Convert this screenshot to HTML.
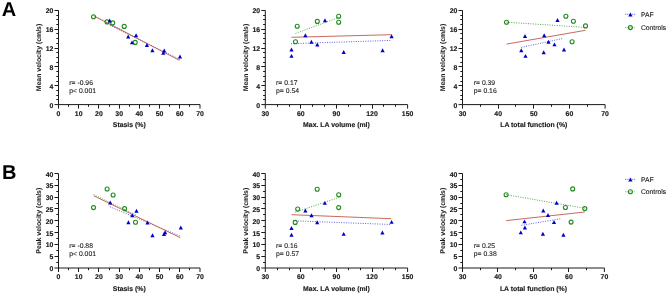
<!DOCTYPE html>
<html><head><meta charset="utf-8"><style>
html,body{margin:0;padding:0;background:#fff;}
body{width:669px;height:294px;overflow:hidden;}
svg{display:block;will-change:transform;text-rendering:geometricPrecision;}
.t{font-family:"Liberation Sans", sans-serif;font-weight:bold;font-size:6.9px;fill:#1a1a1a;stroke:#1a1a1a;stroke-width:0.15px;}
.s{font-family:"Liberation Sans", sans-serif;font-size:6.8px;fill:#1a1a1a;stroke:#1a1a1a;stroke-width:0.1px;}
.l{font-family:"Liberation Sans", sans-serif;font-size:6.8px;fill:#1a1a1a;stroke:#1a1a1a;stroke-width:0.1px;}
.yt{stroke-width:0.05px;}
.big{font-family:"Liberation Sans", sans-serif;font-weight:bold;font-size:20px;fill:#000;}
</style></head><body>
<svg width="669" height="294" viewBox="0 0 669 294">
<path d="M58.5 10.4V104.6H200.0" fill="none" stroke="#1a1a1a" stroke-width="1"/>
<text x="53.30" y="107.60" text-anchor="end" class="t">0</text>
<text x="53.30" y="88.76" text-anchor="end" class="t">4</text>
<text x="53.30" y="69.92" text-anchor="end" class="t">8</text>
<text x="53.30" y="51.08" text-anchor="end" class="t">12</text>
<text x="53.30" y="32.24" text-anchor="end" class="t">16</text>
<text x="53.30" y="13.40" text-anchor="end" class="t">20</text>
<text x="58.50" y="116.00" text-anchor="middle" class="t">0</text>
<text x="78.71" y="116.00" text-anchor="middle" class="t">10</text>
<text x="98.93" y="116.00" text-anchor="middle" class="t">20</text>
<text x="119.14" y="116.00" text-anchor="middle" class="t">30</text>
<text x="139.36" y="116.00" text-anchor="middle" class="t">40</text>
<text x="159.57" y="116.00" text-anchor="middle" class="t">50</text>
<text x="179.79" y="116.00" text-anchor="middle" class="t">60</text>
<text x="200.00" y="116.00" text-anchor="middle" class="t">70</text>
<path d="M54.50 104.60H58.5M56.30 99.50H58.5M56.30 95.50H58.5M56.30 90.50H58.5M54.50 85.50H58.5M56.30 81.50H58.5M56.30 76.50H58.5M56.30 71.50H58.5M54.50 66.50H58.5M56.30 62.50H58.5M56.30 57.50H58.5M56.30 52.50H58.5M54.50 48.50H58.5M56.30 43.50H58.5M56.30 38.50H58.5M56.30 33.50H58.5M54.50 29.50H58.5M56.30 24.50H58.5M56.30 19.50H58.5M56.30 15.50H58.5M54.50 10.50H58.5M58.50 104.6V108.60M68.50 104.6V106.80M78.50 104.6V108.60M88.50 104.6V106.80M98.50 104.6V108.60M109.50 104.6V106.80M119.50 104.6V108.60M129.50 104.6V106.80M139.50 104.6V108.60M149.50 104.6V106.80M159.50 104.6V108.60M169.50 104.6V106.80M179.50 104.6V108.60M189.50 104.6V106.80M200.00 104.6V108.60" stroke="#1a1a1a" stroke-width="1"/>
<text x="129.25" y="127.30" text-anchor="middle" class="t">Stasis (%)</text>
<text transform="translate(41.40,57.50) rotate(-90)" text-anchor="middle" class="t yt">Mean velocity (cm/s)</text>
<path d="M93.5 15.5L135 37" stroke="#1f8a1f" stroke-width="0.9" stroke-dasharray="1 1.4" opacity="0.85"/>
<path d="M110 25.2L180 59.5" stroke="#0000c8" stroke-width="0.9" stroke-dasharray="1 1.4" opacity="0.7"/>
<path d="M94.5 16.3L179.4 60.3" stroke="#c2584c" stroke-width="0.9"/>
<circle cx="93.50" cy="16.70" r="2.0" fill="none" stroke="#1f8a1f" stroke-width="1.1"/>
<circle cx="107.00" cy="21.90" r="2.0" fill="none" stroke="#1f8a1f" stroke-width="1.1"/>
<circle cx="112.70" cy="22.90" r="2.0" fill="none" stroke="#1f8a1f" stroke-width="1.1"/>
<circle cx="124.20" cy="26.40" r="2.0" fill="none" stroke="#1f8a1f" stroke-width="1.1"/>
<circle cx="135.20" cy="42.40" r="2.0" fill="none" stroke="#1f8a1f" stroke-width="1.1"/>
<path d="M109.70 18.60L111.80 22.55L107.60 22.55Z" fill="#0000c8"/>
<path d="M128.20 34.60L130.30 38.55L126.10 38.55Z" fill="#0000c8"/>
<path d="M136.10 33.20L138.20 37.15L134.00 37.15Z" fill="#0000c8"/>
<path d="M132.00 40.40L134.10 44.35L129.90 44.35Z" fill="#0000c8"/>
<path d="M146.90 43.10L149.00 47.05L144.80 47.05Z" fill="#0000c8"/>
<path d="M152.40 48.20L154.50 52.15L150.30 52.15Z" fill="#0000c8"/>
<path d="M164.20 48.60L166.30 52.55L162.10 52.55Z" fill="#0000c8"/>
<path d="M163.30 50.90L165.40 54.85L161.20 54.85Z" fill="#0000c8"/>
<path d="M180.00 54.60L182.10 58.55L177.90 58.55Z" fill="#0000c8"/>
<text x="69.30" y="85.00" class="s">r= -0.96</text>
<text x="69.30" y="92.80" class="s">p< 0.001</text>
<path d="M265.3 10.4V104.6H407.6" fill="none" stroke="#1a1a1a" stroke-width="1"/>
<text x="260.10" y="107.60" text-anchor="end" class="t">0</text>
<text x="260.10" y="88.76" text-anchor="end" class="t">4</text>
<text x="260.10" y="69.92" text-anchor="end" class="t">8</text>
<text x="260.10" y="51.08" text-anchor="end" class="t">12</text>
<text x="260.10" y="32.24" text-anchor="end" class="t">16</text>
<text x="260.10" y="13.40" text-anchor="end" class="t">20</text>
<text x="265.30" y="116.00" text-anchor="middle" class="t">30</text>
<text x="300.88" y="116.00" text-anchor="middle" class="t">60</text>
<text x="336.45" y="116.00" text-anchor="middle" class="t">90</text>
<text x="372.03" y="116.00" text-anchor="middle" class="t">120</text>
<text x="407.60" y="116.00" text-anchor="middle" class="t">150</text>
<path d="M261.30 104.60H265.3M263.10 99.50H265.3M263.10 95.50H265.3M263.10 90.50H265.3M261.30 85.50H265.3M263.10 81.50H265.3M263.10 76.50H265.3M263.10 71.50H265.3M261.30 66.50H265.3M263.10 62.50H265.3M263.10 57.50H265.3M263.10 52.50H265.3M261.30 48.50H265.3M263.10 43.50H265.3M263.10 38.50H265.3M263.10 33.50H265.3M261.30 29.50H265.3M263.10 24.50H265.3M263.10 19.50H265.3M263.10 15.50H265.3M261.30 10.50H265.3M265.30 104.6V108.60M277.50 104.6V106.80M289.50 104.6V106.80M300.50 104.6V108.60M312.50 104.6V106.80M324.50 104.6V106.80M336.50 104.6V108.60M348.50 104.6V106.80M360.50 104.6V106.80M372.50 104.6V108.60M383.50 104.6V106.80M395.50 104.6V106.80M407.60 104.6V108.60" stroke="#1a1a1a" stroke-width="1"/>
<text x="336.45" y="127.30" text-anchor="middle" class="t">Max. LA volume (ml)</text>
<text transform="translate(248.20,57.50) rotate(-90)" text-anchor="middle" class="t yt">Mean velocity (cm/s)</text>
<path d="M295.5 33.5L338.7 17.5" stroke="#1f8a1f" stroke-width="0.9" stroke-dasharray="1 1.4" opacity="0.85"/>
<path d="M291 43.7L391 40.4" stroke="#0000c8" stroke-width="0.9" stroke-dasharray="1 1.4" opacity="0.7"/>
<path d="M291.5 37.3L391.6 34.7" stroke="#c2584c" stroke-width="0.9"/>
<circle cx="297.20" cy="26.30" r="2.0" fill="none" stroke="#1f8a1f" stroke-width="1.1"/>
<circle cx="317.30" cy="21.40" r="2.0" fill="none" stroke="#1f8a1f" stroke-width="1.1"/>
<circle cx="338.70" cy="16.30" r="2.0" fill="none" stroke="#1f8a1f" stroke-width="1.1"/>
<circle cx="338.70" cy="22.20" r="2.0" fill="none" stroke="#1f8a1f" stroke-width="1.1"/>
<circle cx="295.50" cy="41.80" r="2.0" fill="none" stroke="#1f8a1f" stroke-width="1.1"/>
<path d="M325.00 18.20L327.10 22.15L322.90 22.15Z" fill="#0000c8"/>
<path d="M305.40 33.20L307.50 37.15L303.30 37.15Z" fill="#0000c8"/>
<path d="M311.40 39.80L313.50 43.75L309.30 43.75Z" fill="#0000c8"/>
<path d="M317.30 42.50L319.40 46.45L315.20 46.45Z" fill="#0000c8"/>
<path d="M291.50 47.60L293.60 51.55L289.40 51.55Z" fill="#0000c8"/>
<path d="M291.50 53.90L293.60 57.85L289.40 57.85Z" fill="#0000c8"/>
<path d="M343.70 50.10L345.80 54.05L341.60 54.05Z" fill="#0000c8"/>
<path d="M382.60 48.30L384.70 52.25L380.50 52.25Z" fill="#0000c8"/>
<path d="M391.60 34.20L393.70 38.15L389.50 38.15Z" fill="#0000c8"/>
<text x="276.10" y="85.00" class="s">r= 0.17</text>
<text x="276.10" y="92.80" class="s">p= 0.54</text>
<path d="M462.5 10.4V104.6H605.1" fill="none" stroke="#1a1a1a" stroke-width="1"/>
<text x="457.30" y="107.60" text-anchor="end" class="t">0</text>
<text x="457.30" y="88.76" text-anchor="end" class="t">4</text>
<text x="457.30" y="69.92" text-anchor="end" class="t">8</text>
<text x="457.30" y="51.08" text-anchor="end" class="t">12</text>
<text x="457.30" y="32.24" text-anchor="end" class="t">16</text>
<text x="457.30" y="13.40" text-anchor="end" class="t">20</text>
<text x="462.50" y="116.00" text-anchor="middle" class="t">30</text>
<text x="498.15" y="116.00" text-anchor="middle" class="t">40</text>
<text x="533.80" y="116.00" text-anchor="middle" class="t">50</text>
<text x="569.45" y="116.00" text-anchor="middle" class="t">60</text>
<text x="605.10" y="116.00" text-anchor="middle" class="t">70</text>
<path d="M458.50 104.60H462.5M460.30 99.50H462.5M460.30 95.50H462.5M460.30 90.50H462.5M458.50 85.50H462.5M460.30 81.50H462.5M460.30 76.50H462.5M460.30 71.50H462.5M458.50 66.50H462.5M460.30 62.50H462.5M460.30 57.50H462.5M460.30 52.50H462.5M458.50 48.50H462.5M460.30 43.50H462.5M460.30 38.50H462.5M460.30 33.50H462.5M458.50 29.50H462.5M460.30 24.50H462.5M460.30 19.50H462.5M460.30 15.50H462.5M458.50 10.50H462.5M462.50 104.6V108.60M480.50 104.6V106.80M498.50 104.6V108.60M515.50 104.6V106.80M533.50 104.6V108.60M551.50 104.6V106.80M569.50 104.6V108.60M587.50 104.6V106.80M605.10 104.6V108.60" stroke="#1a1a1a" stroke-width="1"/>
<text x="533.80" y="127.30" text-anchor="middle" class="t">LA total function (%)</text>
<text transform="translate(445.40,57.50) rotate(-90)" text-anchor="middle" class="t yt">Mean velocity (cm/s)</text>
<path d="M506.5 22.2L585.5 27.4" stroke="#1f8a1f" stroke-width="0.9" stroke-dasharray="1 1.4" opacity="0.85"/>
<path d="M521.3 47.4L563.5 38.3" stroke="#0000c8" stroke-width="0.9" stroke-dasharray="1 1.4" opacity="0.7"/>
<path d="M506.5 44.1L585.5 30.3" stroke="#c2584c" stroke-width="0.9"/>
<circle cx="506.50" cy="22.20" r="2.0" fill="none" stroke="#1f8a1f" stroke-width="1.1"/>
<circle cx="565.90" cy="16.20" r="2.0" fill="none" stroke="#1f8a1f" stroke-width="1.1"/>
<circle cx="573.40" cy="21.30" r="2.0" fill="none" stroke="#1f8a1f" stroke-width="1.1"/>
<circle cx="585.50" cy="25.90" r="2.0" fill="none" stroke="#1f8a1f" stroke-width="1.1"/>
<circle cx="572.10" cy="41.80" r="2.0" fill="none" stroke="#1f8a1f" stroke-width="1.1"/>
<path d="M557.50 18.00L559.60 21.95L555.40 21.95Z" fill="#0000c8"/>
<path d="M525.00 34.00L527.10 37.95L522.90 37.95Z" fill="#0000c8"/>
<path d="M544.20 33.20L546.30 37.15L542.10 37.15Z" fill="#0000c8"/>
<path d="M548.50 39.80L550.60 43.75L546.40 43.75Z" fill="#0000c8"/>
<path d="M554.50 42.40L556.60 46.35L552.40 46.35Z" fill="#0000c8"/>
<path d="M521.30 48.30L523.40 52.25L519.20 52.25Z" fill="#0000c8"/>
<path d="M525.50 53.90L527.60 57.85L523.40 57.85Z" fill="#0000c8"/>
<path d="M543.70 50.20L545.80 54.15L541.60 54.15Z" fill="#0000c8"/>
<path d="M564.00 47.50L566.10 51.45L561.90 51.45Z" fill="#0000c8"/>
<text x="473.80" y="85.00" class="s">r= 0.39</text>
<text x="473.80" y="92.80" class="s">p= 0.16</text>
<path d="M58.5 173.5V268.0H200.0" fill="none" stroke="#1a1a1a" stroke-width="1"/>
<text x="53.30" y="271.00" text-anchor="end" class="t">0</text>
<text x="53.30" y="259.19" text-anchor="end" class="t">5</text>
<text x="53.30" y="247.38" text-anchor="end" class="t">10</text>
<text x="53.30" y="235.56" text-anchor="end" class="t">15</text>
<text x="53.30" y="223.75" text-anchor="end" class="t">20</text>
<text x="53.30" y="211.94" text-anchor="end" class="t">25</text>
<text x="53.30" y="200.12" text-anchor="end" class="t">30</text>
<text x="53.30" y="188.31" text-anchor="end" class="t">35</text>
<text x="53.30" y="176.50" text-anchor="end" class="t">40</text>
<text x="58.50" y="279.40" text-anchor="middle" class="t">0</text>
<text x="78.71" y="279.40" text-anchor="middle" class="t">10</text>
<text x="98.93" y="279.40" text-anchor="middle" class="t">20</text>
<text x="119.14" y="279.40" text-anchor="middle" class="t">30</text>
<text x="139.36" y="279.40" text-anchor="middle" class="t">40</text>
<text x="159.57" y="279.40" text-anchor="middle" class="t">50</text>
<text x="179.79" y="279.40" text-anchor="middle" class="t">60</text>
<text x="200.00" y="279.40" text-anchor="middle" class="t">70</text>
<path d="M54.50 268.00H58.5M56.30 262.50H58.5M54.50 256.50H58.5M56.30 250.50H58.5M54.50 244.50H58.5M56.30 238.50H58.5M54.50 232.50H58.5M56.30 226.50H58.5M54.50 220.50H58.5M56.30 214.50H58.5M54.50 208.50H58.5M56.30 203.50H58.5M54.50 197.50H58.5M56.30 191.50H58.5M54.50 185.50H58.5M56.30 179.50H58.5M54.50 173.50H58.5M58.50 268.0V272.00M68.50 268.0V270.20M78.50 268.0V272.00M88.50 268.0V270.20M98.50 268.0V272.00M109.50 268.0V270.20M119.50 268.0V272.00M129.50 268.0V270.20M139.50 268.0V272.00M149.50 268.0V270.20M159.50 268.0V272.00M169.50 268.0V270.20M179.50 268.0V272.00M189.50 268.0V270.20M200.00 268.0V272.00" stroke="#1a1a1a" stroke-width="1"/>
<text x="129.25" y="290.70" text-anchor="middle" class="t">Stasis (%)</text>
<text transform="translate(41.40,220.75) rotate(-90)" text-anchor="middle" class="t yt">Peak velocity (cm/s)</text>
<path d="M93.6 194.6L136 215.0" stroke="#1f8a1f" stroke-width="0.9" stroke-dasharray="1 1.4" opacity="0.85"/>
<path d="M110.2 206.9L180 236" stroke="#0000c8" stroke-width="0.9" stroke-dasharray="1 1.4" opacity="0.7"/>
<path d="M93.8 195.8L180.3 237.7" stroke="#c2584c" stroke-width="0.9"/>
<circle cx="107.10" cy="189.00" r="2.0" fill="none" stroke="#1f8a1f" stroke-width="1.1"/>
<circle cx="113.10" cy="195.00" r="2.0" fill="none" stroke="#1f8a1f" stroke-width="1.1"/>
<circle cx="93.50" cy="207.60" r="2.0" fill="none" stroke="#1f8a1f" stroke-width="1.1"/>
<circle cx="124.60" cy="208.60" r="2.0" fill="none" stroke="#1f8a1f" stroke-width="1.1"/>
<circle cx="135.50" cy="222.30" r="2.0" fill="none" stroke="#1f8a1f" stroke-width="1.1"/>
<path d="M110.20 200.60L112.30 204.55L108.10 204.55Z" fill="#0000c8"/>
<path d="M136.50 208.70L138.60 212.65L134.40 212.65Z" fill="#0000c8"/>
<path d="M132.30 213.30L134.40 217.25L130.20 217.25Z" fill="#0000c8"/>
<path d="M128.40 220.20L130.50 224.15L126.30 224.15Z" fill="#0000c8"/>
<path d="M147.50 220.50L149.60 224.45L145.40 224.45Z" fill="#0000c8"/>
<path d="M180.80 225.60L182.90 229.55L178.70 229.55Z" fill="#0000c8"/>
<path d="M152.50 233.20L154.60 237.15L150.40 237.15Z" fill="#0000c8"/>
<path d="M165.10 230.20L167.20 234.15L163.00 234.15Z" fill="#0000c8"/>
<path d="M164.00 232.00L166.10 235.95L161.90 235.95Z" fill="#0000c8"/>
<text x="69.30" y="248.40" class="s">r= -0.88</text>
<text x="69.30" y="256.20" class="s">p< 0.001</text>
<path d="M265.3 173.5V268.0H407.6" fill="none" stroke="#1a1a1a" stroke-width="1"/>
<text x="260.10" y="271.00" text-anchor="end" class="t">0</text>
<text x="260.10" y="259.19" text-anchor="end" class="t">5</text>
<text x="260.10" y="247.38" text-anchor="end" class="t">10</text>
<text x="260.10" y="235.56" text-anchor="end" class="t">15</text>
<text x="260.10" y="223.75" text-anchor="end" class="t">20</text>
<text x="260.10" y="211.94" text-anchor="end" class="t">25</text>
<text x="260.10" y="200.12" text-anchor="end" class="t">30</text>
<text x="260.10" y="188.31" text-anchor="end" class="t">35</text>
<text x="260.10" y="176.50" text-anchor="end" class="t">40</text>
<text x="265.30" y="279.40" text-anchor="middle" class="t">30</text>
<text x="300.88" y="279.40" text-anchor="middle" class="t">60</text>
<text x="336.45" y="279.40" text-anchor="middle" class="t">90</text>
<text x="372.03" y="279.40" text-anchor="middle" class="t">120</text>
<text x="407.60" y="279.40" text-anchor="middle" class="t">150</text>
<path d="M261.30 268.00H265.3M263.10 262.50H265.3M261.30 256.50H265.3M263.10 250.50H265.3M261.30 244.50H265.3M263.10 238.50H265.3M261.30 232.50H265.3M263.10 226.50H265.3M261.30 220.50H265.3M263.10 214.50H265.3M261.30 208.50H265.3M263.10 203.50H265.3M261.30 197.50H265.3M263.10 191.50H265.3M261.30 185.50H265.3M263.10 179.50H265.3M261.30 173.50H265.3M265.30 268.0V272.00M277.50 268.0V270.20M289.50 268.0V270.20M300.50 268.0V272.00M312.50 268.0V270.20M324.50 268.0V270.20M336.50 268.0V272.00M348.50 268.0V270.20M360.50 268.0V270.20M372.50 268.0V272.00M383.50 268.0V270.20M395.50 268.0V270.20M407.60 268.0V272.00" stroke="#1a1a1a" stroke-width="1"/>
<text x="336.45" y="290.70" text-anchor="middle" class="t">Max. LA volume (ml)</text>
<text transform="translate(248.20,220.75) rotate(-90)" text-anchor="middle" class="t yt">Peak velocity (cm/s)</text>
<path d="M295.2 212.2L341.1 196.7" stroke="#1f8a1f" stroke-width="0.9" stroke-dasharray="1 1.4" opacity="0.85"/>
<path d="M293.2 220.8L391.3 224.5" stroke="#0000c8" stroke-width="0.9" stroke-dasharray="1 1.4" opacity="0.7"/>
<path d="M291.5 214.7L391.3 218.7" stroke="#c2584c" stroke-width="0.9"/>
<circle cx="317.20" cy="189.20" r="2.0" fill="none" stroke="#1f8a1f" stroke-width="1.1"/>
<circle cx="338.70" cy="194.70" r="2.0" fill="none" stroke="#1f8a1f" stroke-width="1.1"/>
<circle cx="338.70" cy="207.60" r="2.0" fill="none" stroke="#1f8a1f" stroke-width="1.1"/>
<circle cx="297.70" cy="209.00" r="2.0" fill="none" stroke="#1f8a1f" stroke-width="1.1"/>
<circle cx="295.20" cy="222.40" r="2.0" fill="none" stroke="#1f8a1f" stroke-width="1.1"/>
<path d="M324.80 200.90L326.90 204.85L322.70 204.85Z" fill="#0000c8"/>
<path d="M305.40 208.60L307.50 212.55L303.30 212.55Z" fill="#0000c8"/>
<path d="M311.50 213.30L313.60 217.25L309.40 217.25Z" fill="#0000c8"/>
<path d="M317.20 220.20L319.30 224.15L315.10 224.15Z" fill="#0000c8"/>
<path d="M291.50 226.00L293.60 229.95L289.40 229.95Z" fill="#0000c8"/>
<path d="M291.50 232.70L293.60 236.65L289.40 236.65Z" fill="#0000c8"/>
<path d="M343.70 231.90L345.80 235.85L341.60 235.85Z" fill="#0000c8"/>
<path d="M382.40 230.50L384.50 234.45L380.30 234.45Z" fill="#0000c8"/>
<path d="M391.60 219.90L393.70 223.85L389.50 223.85Z" fill="#0000c8"/>
<text x="276.10" y="248.40" class="s">r= 0.16</text>
<text x="276.10" y="256.20" class="s">p= 0.57</text>
<path d="M462.5 173.5V268.0H604.4" fill="none" stroke="#1a1a1a" stroke-width="1"/>
<text x="457.30" y="271.00" text-anchor="end" class="t">0</text>
<text x="457.30" y="259.19" text-anchor="end" class="t">5</text>
<text x="457.30" y="247.38" text-anchor="end" class="t">10</text>
<text x="457.30" y="235.56" text-anchor="end" class="t">15</text>
<text x="457.30" y="223.75" text-anchor="end" class="t">20</text>
<text x="457.30" y="211.94" text-anchor="end" class="t">25</text>
<text x="457.30" y="200.12" text-anchor="end" class="t">30</text>
<text x="457.30" y="188.31" text-anchor="end" class="t">35</text>
<text x="457.30" y="176.50" text-anchor="end" class="t">40</text>
<text x="462.50" y="279.40" text-anchor="middle" class="t">30</text>
<text x="497.98" y="279.40" text-anchor="middle" class="t">40</text>
<text x="533.45" y="279.40" text-anchor="middle" class="t">50</text>
<text x="568.92" y="279.40" text-anchor="middle" class="t">60</text>
<text x="604.40" y="279.40" text-anchor="middle" class="t">70</text>
<path d="M458.50 268.00H462.5M460.30 262.50H462.5M458.50 256.50H462.5M460.30 250.50H462.5M458.50 244.50H462.5M460.30 238.50H462.5M458.50 232.50H462.5M460.30 226.50H462.5M458.50 220.50H462.5M460.30 214.50H462.5M458.50 208.50H462.5M460.30 203.50H462.5M458.50 197.50H462.5M460.30 191.50H462.5M458.50 185.50H462.5M460.30 179.50H462.5M458.50 173.50H462.5M462.50 268.0V272.00M480.50 268.0V270.20M497.50 268.0V272.00M515.50 268.0V270.20M533.50 268.0V272.00M551.50 268.0V270.20M568.50 268.0V272.00M586.50 268.0V270.20M604.40 268.0V272.00" stroke="#1a1a1a" stroke-width="1"/>
<text x="533.45" y="290.70" text-anchor="middle" class="t">LA total function (%)</text>
<text transform="translate(445.40,220.75) rotate(-90)" text-anchor="middle" class="t yt">Peak velocity (cm/s)</text>
<path d="M506.1 194.7L584.8 208.2" stroke="#1f8a1f" stroke-width="0.9" stroke-dasharray="1 1.4" opacity="0.85"/>
<path d="M521.4 225.3L561.6 218.6" stroke="#0000c8" stroke-width="0.9" stroke-dasharray="1 1.4" opacity="0.7"/>
<path d="M506.1 220.6L584.8 212.0" stroke="#c2584c" stroke-width="0.9"/>
<circle cx="506.10" cy="194.70" r="2.0" fill="none" stroke="#1f8a1f" stroke-width="1.1"/>
<circle cx="572.70" cy="188.90" r="2.0" fill="none" stroke="#1f8a1f" stroke-width="1.1"/>
<circle cx="565.40" cy="207.50" r="2.0" fill="none" stroke="#1f8a1f" stroke-width="1.1"/>
<circle cx="584.80" cy="208.60" r="2.0" fill="none" stroke="#1f8a1f" stroke-width="1.1"/>
<circle cx="571.10" cy="222.10" r="2.0" fill="none" stroke="#1f8a1f" stroke-width="1.1"/>
<path d="M556.60 200.80L558.70 204.75L554.50 204.75Z" fill="#0000c8"/>
<path d="M543.30 208.60L545.40 212.55L541.20 212.55Z" fill="#0000c8"/>
<path d="M548.00 213.10L550.10 217.05L545.90 217.05Z" fill="#0000c8"/>
<path d="M554.00 220.00L556.10 223.95L551.90 223.95Z" fill="#0000c8"/>
<path d="M524.50 219.40L526.60 223.35L522.40 223.35Z" fill="#0000c8"/>
<path d="M524.90 225.60L527.00 229.55L522.80 229.55Z" fill="#0000c8"/>
<path d="M520.80 230.40L522.90 234.35L518.70 234.35Z" fill="#0000c8"/>
<path d="M542.90 231.70L545.00 235.65L540.80 235.65Z" fill="#0000c8"/>
<path d="M563.40 232.70L565.50 236.65L561.30 236.65Z" fill="#0000c8"/>
<text x="473.80" y="248.40" class="s">r= 0.25</text>
<text x="473.80" y="256.20" class="s">p= 0.38</text>
<path d="M625 14.3H636" stroke="#0000c8" stroke-width="0.9" stroke-dasharray="1.3 0.9" opacity="0.6"/>
<path d="M630.40 12.50L632.50 16.45L628.30 16.45Z" fill="#0000c8"/>
<text x="640.9" y="16.70" class="l">PAF</text>
<path d="M625 27.6H636" stroke="#1f8a1f" stroke-width="0.9" stroke-dasharray="1.3 0.9" opacity="0.6"/>
<circle cx="630.40" cy="27.60" r="2.0" fill="none" stroke="#1f8a1f" stroke-width="1.1"/>
<text x="640.9" y="30.00" class="l">Controls</text>
<path d="M625 179.3H636" stroke="#0000c8" stroke-width="0.9" stroke-dasharray="1.3 0.9" opacity="0.6"/>
<path d="M630.40 177.50L632.50 181.45L628.30 181.45Z" fill="#0000c8"/>
<text x="640.9" y="181.70" class="l">PAF</text>
<path d="M625 191.8H636" stroke="#1f8a1f" stroke-width="0.9" stroke-dasharray="1.3 0.9" opacity="0.6"/>
<circle cx="630.40" cy="191.80" r="2.0" fill="none" stroke="#1f8a1f" stroke-width="1.1"/>
<text x="640.9" y="194.20" class="l">Controls</text>
<text x="1.8" y="15.9" class="big">A</text>
<text x="2.0" y="179.0" class="big">B</text>
</svg>
</body></html>
